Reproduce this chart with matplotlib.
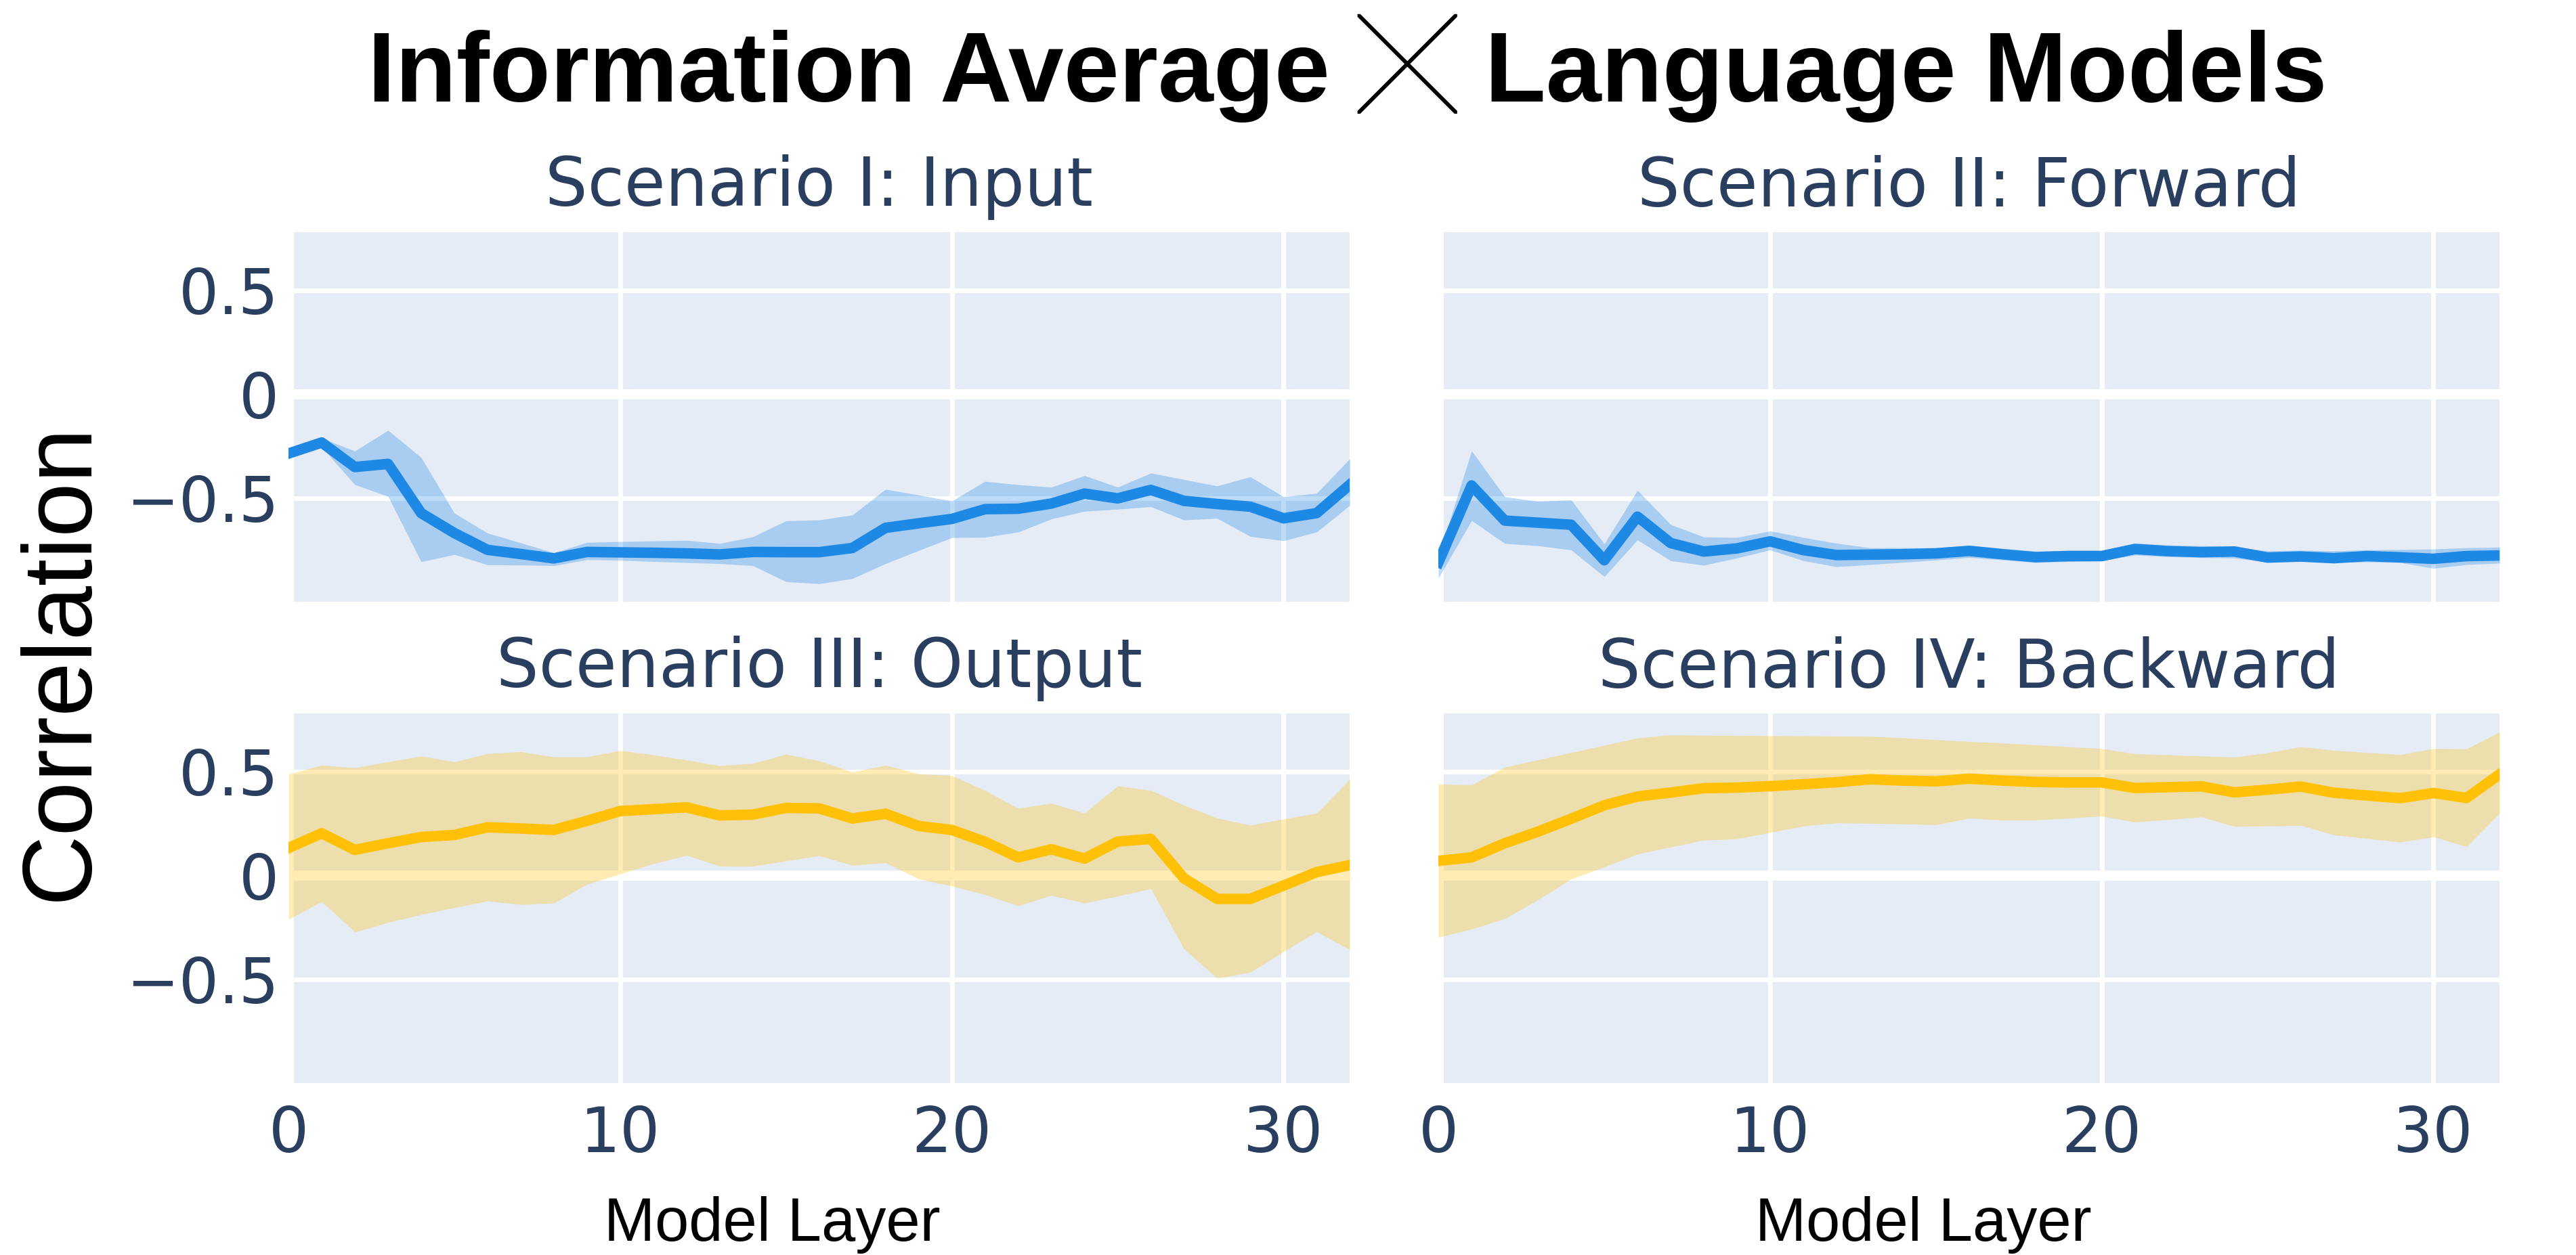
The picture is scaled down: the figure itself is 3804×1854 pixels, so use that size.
import matplotlib.pyplot as plt

# Layer index (embedding + 32 transformer layers)
layers = list(range(33))

# Scenario I: Input
input_mean = [-0.286, -0.233, -0.351, -0.336, -0.573, -0.669, -0.750, -0.770, -0.791, -0.760, -0.762,
              -0.764, -0.767, -0.772, -0.760, -0.761, -0.761, -0.741, -0.644, -0.622, -0.601, -0.554,
              -0.552, -0.527, -0.479, -0.502, -0.461, -0.514, -0.529, -0.542, -0.598, -0.573, -0.436]
input_upper = [-0.270, -0.212, -0.274, -0.174, -0.305, -0.573, -0.669, -0.716, -0.764, -0.714, -0.710,
               -0.707, -0.704, -0.719, -0.687, -0.610, -0.606, -0.582, -0.458, -0.486, -0.514, -0.420,
               -0.436, -0.448, -0.392, -0.448, -0.380, -0.411, -0.442, -0.398, -0.494, -0.477, -0.311]
input_lower = [-0.300, -0.255, -0.436, -0.492, -0.807, -0.772, -0.822, -0.823, -0.826, -0.797, -0.800,
               -0.806, -0.811, -0.816, -0.826, -0.903, -0.913, -0.888, -0.816, -0.753, -0.691, -0.689,
               -0.664, -0.601, -0.564, -0.554, -0.542, -0.606, -0.598, -0.685, -0.706, -0.664, -0.535]

# Scenario II: Forward
forward_mean = [-0.810, -0.440, -0.609, -0.619, -0.629, -0.800, -0.590, -0.717, -0.758, -0.743, -0.709,
                -0.751, -0.775, -0.773, -0.771, -0.767, -0.755, -0.771, -0.785, -0.780, -0.780, -0.746,
                -0.756, -0.761, -0.758, -0.787, -0.782, -0.790, -0.780, -0.786, -0.793, -0.780, -0.777]
forward_upper = [-0.780, -0.273, -0.494, -0.516, -0.509, -0.721, -0.463, -0.628, -0.688, -0.690, -0.659,
                 -0.690, -0.718, -0.740, -0.740, -0.740, -0.728, -0.743, -0.756, -0.752, -0.752, -0.717,
                 -0.727, -0.730, -0.734, -0.755, -0.752, -0.755, -0.750, -0.748, -0.746, -0.740, -0.737]
forward_lower = [-0.885, -0.609, -0.719, -0.730, -0.750, -0.879, -0.702, -0.802, -0.824, -0.789, -0.750,
                 -0.802, -0.831, -0.821, -0.810, -0.799, -0.787, -0.798, -0.811, -0.806, -0.802, -0.775,
                 -0.783, -0.787, -0.790, -0.808, -0.802, -0.811, -0.808, -0.811, -0.839, -0.821, -0.814]

# Scenario III: Output
output_mean = [0.132, 0.203, 0.123, 0.155, 0.185, 0.195, 0.232, 0.226, 0.219, 0.263, 0.310,
               0.319, 0.328, 0.289, 0.293, 0.325, 0.323, 0.274, 0.297, 0.238, 0.219, 0.162,
               0.087, 0.126, 0.081, 0.163, 0.176, -0.014, -0.113, -0.113, -0.049, 0.016, 0.050]
output_upper = [0.488, 0.531, 0.519, 0.547, 0.575, 0.547, 0.587, 0.596, 0.571, 0.571, 0.602,
                0.581, 0.556, 0.529, 0.540, 0.584, 0.552, 0.498, 0.531, 0.490, 0.481, 0.409,
                0.323, 0.348, 0.300, 0.431, 0.410, 0.338, 0.276, 0.242, 0.272, 0.300, 0.463]
output_lower = [-0.211, -0.126, -0.273, -0.226, -0.188, -0.155, -0.123, -0.140, -0.133, -0.042, 0.007,
                0.057, 0.097, 0.045, 0.044, 0.070, 0.095, 0.049, 0.061, -0.017, -0.051, -0.092,
                -0.146, -0.096, -0.133, -0.099, -0.064, -0.354, -0.495, -0.466, -0.367, -0.271, -0.358]

# Scenario IV: Backward
backward_mean = [0.070, 0.087, 0.155, 0.211, 0.273, 0.338, 0.380, 0.399, 0.420, 0.423, 0.430,
                 0.439, 0.449, 0.463, 0.457, 0.453, 0.466, 0.457, 0.450, 0.448, 0.448, 0.421,
                 0.425, 0.429, 0.400, 0.413, 0.428, 0.398, 0.385, 0.372, 0.397, 0.373, 0.488]
backward_upper = [0.440, 0.436, 0.522, 0.557, 0.592, 0.627, 0.662, 0.677, 0.675, 0.674, 0.673,
                  0.672, 0.671, 0.670, 0.663, 0.654, 0.645, 0.638, 0.629, 0.620, 0.611, 0.586,
                  0.581, 0.575, 0.570, 0.591, 0.620, 0.603, 0.592, 0.582, 0.611, 0.610, 0.691]
backward_lower = [-0.298, -0.258, -0.208, -0.117, -0.017, 0.041, 0.103, 0.137, 0.170, 0.176, 0.207,
                  0.238, 0.253, 0.251, 0.248, 0.244, 0.276, 0.266, 0.267, 0.276, 0.286, 0.257,
                  0.269, 0.282, 0.236, 0.238, 0.241, 0.195, 0.178, 0.161, 0.186, 0.139, 0.300]

titles = ['Scenario I: Input', 'Scenario II: Forward', 'Scenario III: Output', 'Scenario IV: Backward']
x_ticks = [0, 10, 20, 30]
y_ticks = [-0.5, 0, 0.5]
y_ticklabels = ['\u22120.5', '0', '0.5']

BLUE = '#1E88E5'
YELLOW = '#FFC107'
BG = '#E5ECF6'
TICK_COLOR = '#2a3f5f'

panels = [
    (input_mean, input_lower, input_upper, BLUE),
    (forward_mean, forward_lower, forward_upper, BLUE),
    (output_mean, output_lower, output_upper, YELLOW),
    (backward_mean, backward_lower, backward_upper, YELLOW),
]

fig = plt.figure(figsize=(19.02, 9.27), dpi=200)

# axes rectangles [left, bottom, width, height] in figure fraction
lefts = [0.1120, 0.5584]
bottoms = [0.5205, 0.1370]
w, h = 0.4120, 0.2945

for i, (mean, lower, upper, color) in enumerate(panels):
    row, col = divmod(i, 2)
    ax = fig.add_axes([lefts[col], bottoms[row], w, h])
    ax.set_facecolor(BG)
    for s in ax.spines.values():
        s.set_visible(False)
    ax.set_axisbelow(True)
    ax.grid(True, color='white', lw=2.5)
    ax.axhline(0, color='white', lw=5.4, zorder=1)
    ax.axvline(0, color='white', lw=5.4, zorder=1)

    ax.fill_between(layers, lower, upper, color=color, alpha=0.3, lw=0, zorder=2)
    ax.plot(layers, mean, color=color, lw=5.6, zorder=3)

    ax.set_xlim(0, 32)
    ax.set_ylim(-1.0, 0.78)
    ax.set_xticks(x_ticks)
    ax.set_yticks(y_ticks)
    ax.tick_params(length=0, labelsize=33.5, labelcolor=TICK_COLOR)
    ax.tick_params(axis='y', pad=5)
    ax.tick_params(axis='x', pad=11)
    if col == 0:
        ax.set_yticklabels(y_ticklabels, family='DejaVu Sans')
    else:
        ax.set_yticklabels([])
    if row == 1:
        ax.set_xticklabels([str(t) for t in x_ticks], family='DejaVu Sans')
    else:
        ax.set_xticklabels([])
    ax.set_title(titles[i], fontsize=35.5, color=TICK_COLOR, pad=14, family='DejaVu Sans')

fig.text(0.523, 0.919, 'Information Average \u2573 Language Models', ha='center', va='baseline',
         fontsize=53, fontweight='bold', family=['Liberation Sans', 'Noto Sans CJK SC', 'DejaVu Sans'])
fig.text(0.0239, 0.4725, 'Correlation', rotation=90, ha='center', va='center',
         fontsize=52, family='Liberation Sans')
fig.text(0.2997, 0.0113, 'Model Layer', ha='center', va='baseline', fontsize=32.5, family='Liberation Sans')
fig.text(0.7466, 0.0113, 'Model Layer', ha='center', va='baseline', fontsize=32.5, family='Liberation Sans')

fig.savefig('out.png', dpi=200)
